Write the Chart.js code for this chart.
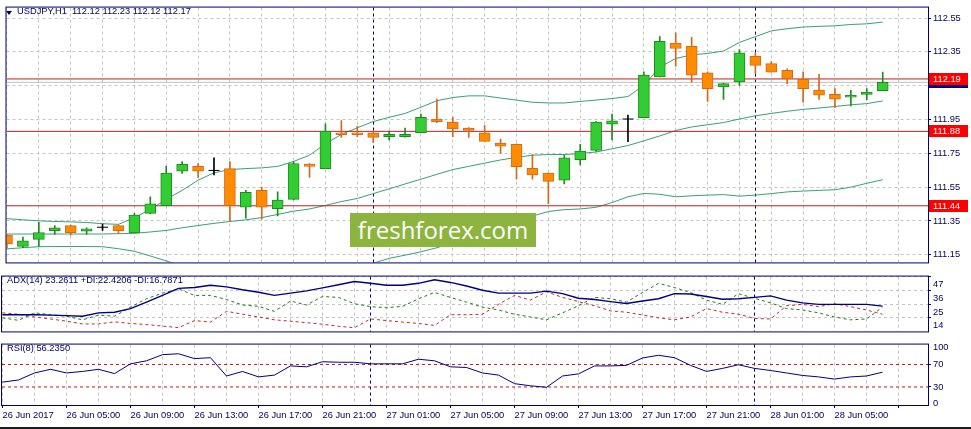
<!DOCTYPE html>
<html>
<head>
<meta charset="utf-8">
<title>USDJPY,H1</title>
<script src="https://cdn.jsdelivr.net/npm/chart.js@4.4.1/dist/chart.umd.min.js"></script>
<style>
body { margin: 0; background: #fff; }
#wrap { position: relative; width: 971px; height: 429px; overflow: hidden; font-family: 'Liberation Sans', Arial, sans-serif; }
canvas { position: absolute; left: 0; }
.hdr { position: absolute; font-size: 9.3px; line-height: 11px; color: #00005a; white-space: pre; }
#tri { position: absolute; left: 6px; top: 11px; width: 0; height: 0; border-left: 3px solid transparent; border-right: 3px solid transparent; border-top: 4px solid #00005a; }
#logo { position: absolute; left: 350px; top: 213px; width: 186px; height: 34px; line-height: 34px; background: #8cb43e; color: #fff; font-family: 'Open Sans', sans-serif; font-size: 24px; text-align: center; }
#bottomBar { position: absolute; left: 0; top: 427px; width: 971px; height: 2px; background: #1c1c1c; }
</style>
</head>
<body>
<div id="wrap">
  <canvas id="cMain" width="971" height="270" style="top:0"></canvas>
  <canvas id="cAdx" width="971" height="70" style="top:269px"></canvas>
  <canvas id="cRsi" width="971" height="92" style="top:337px"></canvas>
  <div id="tri"></div>
  <div class="hdr" id="hMain" style="left:17px;top:6px"></div>
  <div class="hdr" id="hAdx" style="left:7px;top:275px"></div>
  <div class="hdr" id="hRsi" style="left:7px;top:343px"></div>
  <div id="logo">freshforex.com</div>
  <div id="bottomBar"></div>
</div>
<script>
// H1 bars, one label every 4 bars
var timeLabels = ['26 Jun 2017', '26 Jun 05:00', '26 Jun 09:00', '26 Jun 13:00', '26 Jun 17:00', '26 Jun 21:00',
  '27 Jun 01:00', '27 Jun 05:00', '27 Jun 09:00', '27 Jun 13:00', '27 Jun 17:00', '27 Jun 21:00',
  '28 Jun 01:00', '28 Jun 05:00'];
var labelEvery = 4;
var separatorBars = [23, 47]; // day breaks

var opens = [111.266, 111.200, 111.241, 111.293, 111.323, 111.290, 111.313, 111.323, 111.279, 111.395,
  111.440, 111.645, 111.673, 111.649, 111.660, 111.432, 111.531, 111.423, 111.478, 111.686,
  111.660, 111.872, 111.872, 111.872, 111.849, 111.849, 111.872, 111.953, 111.935, 111.900,
  111.872, 111.811, 111.804, 111.662, 111.633, 111.592, 111.713, 111.768, 111.923, 111.953,
  111.961, 112.202, 112.402, 112.383, 112.226, 112.143, 112.173, 112.323, 112.281, 112.241,
  112.188, 112.124, 112.099, 112.082, 112.099, 112.120];
var highs = [111.270, 111.255, 111.342, 111.323, 111.326, 111.310, 111.332, 111.326, 111.395, 111.493,
  111.673, 111.702, 111.690, 111.724, 111.702, 111.531, 111.550, 111.522, 111.702, 111.690,
  111.925, 111.944, 111.910, 111.875, 111.881, 111.900, 111.982, 112.071, 111.963, 111.902,
  111.914, 111.834, 111.806, 111.743, 111.635, 111.739, 111.804, 111.938, 111.982, 111.976,
  112.232, 112.440, 112.463, 112.436, 112.232, 112.165, 112.364, 112.345, 112.293, 112.250,
  112.232, 112.217, 112.133, 112.122, 112.133, 112.230];
var lows = [111.192, 111.192, 111.200, 111.270, 111.266, 111.270, 111.294, 111.277, 111.279, 111.392,
  111.440, 111.631, 111.607, 111.622, 111.347, 111.366, 111.361, 111.380, 111.476, 111.607,
  111.660, 111.844, 111.849, 111.815, 111.830, 111.845, 111.872, 111.932, 111.849, 111.844,
  111.821, 111.749, 111.597, 111.597, 111.452, 111.569, 111.682, 111.762, 111.830, 111.819,
  111.961, 112.202, 112.266, 112.171, 112.057, 112.069, 112.152, 112.222, 112.230, 112.162,
  112.052, 112.069, 112.020, 112.031, 112.067, 112.120];
var closes = [111.215, 111.232, 111.281, 111.310, 111.281, 111.304, 111.313, 111.293, 111.385, 111.452,
  111.633, 111.685, 111.645, 111.649, 111.440, 111.520, 111.432, 111.474, 111.690, 111.673,
  111.881, 111.861, 111.861, 111.844, 111.862, 111.862, 111.963, 111.938, 111.895, 111.885,
  111.821, 111.793, 111.671, 111.622, 111.584, 111.724, 111.764, 111.935, 111.942, 111.953,
  112.213, 112.412, 112.370, 112.213, 112.133, 112.162, 112.345, 112.270, 112.230, 112.190,
  112.133, 112.094, 112.071, 112.094, 112.113, 112.170];

// Bollinger bands
var bbUpper = [111.364, 111.357, 111.351, 111.347, 111.345, 111.341, 111.334, 111.330, 111.370, 111.418,
  111.478, 111.531, 111.591, 111.635, 111.654, 111.660, 111.664, 111.673, 111.702, 111.739,
  111.806, 111.862, 111.901, 111.938, 111.963, 111.986, 112.023, 112.061, 112.080, 112.090,
  112.090, 112.077, 112.065, 112.052, 112.048, 112.048, 112.057, 112.065, 112.074, 112.086,
  112.152, 112.260, 112.311, 112.332, 112.341, 112.355, 112.406, 112.440, 112.474, 112.487,
  112.497, 112.501, 112.504, 112.512, 112.516, 112.526];
var bbMiddle = [111.273, 111.273, 111.273, 111.273, 111.273, 111.273, 111.273, 111.275, 111.277, 111.285,
  111.294, 111.310, 111.323, 111.336, 111.347, 111.357, 111.370, 111.389, 111.408, 111.421,
  111.442, 111.465, 111.483, 111.512, 111.540, 111.569, 111.597, 111.626, 111.654, 111.673,
  111.692, 111.711, 111.726, 111.739, 111.743, 111.743, 111.749, 111.758, 111.777, 111.796,
  111.824, 111.853, 111.885, 111.906, 111.919, 111.932, 111.953, 111.972, 111.986, 111.999,
  112.010, 112.018, 112.027, 112.037, 112.044, 112.060];
var bbLower = [111.185, 111.192, 111.198, 111.199, 111.199, 111.199, 111.198, 111.186, 111.171, 111.143,
  111.114, 111.084, 111.056, 111.039, 111.022, 111.012, 111.010, 111.015, 111.024, 111.036,
  111.050, 111.066, 111.083, 111.100, 111.129, 111.148, 111.168, 111.192, 111.220, 111.254,
  111.288, 111.323, 111.351, 111.379, 111.406, 111.417, 111.421, 111.431, 111.459, 111.493,
  111.513, 111.508, 111.493, 111.499, 111.503, 111.506, 111.497, 111.503, 111.512, 111.522,
  111.527, 111.531, 111.535, 111.550, 111.573, 111.594];

var levels = [112.19, 111.88, 111.44];
var bidPrice = 112.17;
var priceTicks = [111.15, 111.35, 111.55, 111.75, 111.95, 112.15, 112.35, 112.55];
var priceMin = 111.105, priceMax = 112.612;

// ADX(14)
var adx = [16.4, 16.4, 16.4, 16.1, 15.7, 15.2, 17.9, 18.4, 21.3, 26.5,
  31.9, 37.5, 38.2, 40.0, 38.7, 36.4, 34.4, 31.9, 33.7, 35.5,
  37.9, 40.4, 43.1, 41.6, 40.0, 40.0, 41.6, 44.5, 42.3, 39.4,
  36.0, 33.7, 33.7, 33.7, 35.3, 33.3, 29.6, 28.6, 26.9, 25.4,
  27.4, 29.2, 33.3, 33.0, 31.0, 28.8, 29.2, 30.3, 31.5, 28.1,
  25.9, 24.7, 24.7, 24.7, 24.7, 23.26];
var plusDI = [13.9, 11.9, 17.9, 16.4, 15.2, 12.3, 16.1, 15.2, 22.5, 29.2,
  33.7, 37.1, 31.9, 31.9, 28.6, 24.2, 23.1, 19.1, 27.4, 24.2,
  31.0, 30.3, 25.2, 22.9, 22.0, 23.1, 29.2, 34.2, 30.3, 26.5,
  22.5, 20.2, 16.8, 14.6, 12.3, 17.9, 23.6, 30.3, 29.2, 26.5,
  34.2, 41.6, 38.2, 34.2, 28.1, 24.7, 33.3, 29.6, 25.9, 21.3,
  20.2, 17.9, 14.6, 12.3, 13.0, 22.42];
var minusDI = [17.9, 16.8, 14.6, 13.0, 11.2, 9.0, 9.0, 10.7, 9.4, 8.5,
  7.3, 6.0, 11.7, 10.5, 19.1, 16.8, 14.6, 12.3, 11.2, 10.0,
  8.8, 7.1, 6.0, 13.0, 11.7, 10.5, 9.4, 7.8, 16.4, 16.4,
  16.8, 24.7, 31.9, 28.1, 34.8, 30.3, 26.9, 23.6, 19.5, 18.4,
  16.2, 13.9, 12.3, 14.6, 21.3, 18.4, 16.8, 13.4, 13.0, 23.6,
  24.7, 22.9, 25.2, 22.9, 20.2, 16.79];
var adxTicks = [14, 25, 36, 47];
var adxMin = 3, adxMax = 47;

// RSI(8)
var rsi = [38.6, 42.4, 54.9, 61.4, 54.9, 57.6, 61.4, 53.8, 71.1, 76.5,
  87.4, 89.0, 80.4, 82.0, 49.5, 57.6, 47.9, 51.1, 67.4, 65.8,
  74.9, 73.9, 73.9, 71.1, 71.1, 71.1, 79.3, 76.5, 65.8, 64.6,
  54.9, 51.1, 35.9, 32.1, 29.4, 49.5, 53.3, 67.4, 67.4, 68.4,
  81.5, 86.3, 82.0, 68.4, 57.6, 63.0, 69.5, 63.0, 59.3, 54.9,
  50.5, 47.9, 44.0, 47.9, 49.5, 56.235];
var rsiLevels = [70, 30];
var rsiTicks = [0, 30, 70, 100];
var rsiMin = -2, rsiMax = 105.3;

var NAVY = '#000070';
var TEXT = '#00005a';
var GRID = '#c4c4c4';
var LEVEL = '#be1e1e';
var xMin = -0.03125, xMax = 57.84375;

Chart.defaults.font.family = "'Liberation Sans', Arial, sans-serif";
Chart.defaults.font.size = 9.3;
Chart.defaults.color = TEXT;

document.getElementById('hMain').textContent = 'USDJPY,H1  ' +
  [opens[55], highs[55], lows[55], closes[55]].map(function (v) { return v.toFixed(2); }).join(' ');
document.getElementById('hAdx').textContent = 'ADX(14) 23.2611 +DI:22.4206 -DI:16.7871';
document.getElementById('hRsi').textContent = 'RSI(8) 56.2350';

function pts(arr) {
  return arr.map(function (v, i) { return { x: i, y: v }; });
}
function flat(v) {
  return [{ x: xMin, y: v }, { x: xMax, y: v }];
}
function candleColor(raw, up, down, doji) {
  if (raw.c > raw.o) return up;
  if (raw.c < raw.o) return down;
  return doji;
}

var wicks = [], bodies = [], dojis = [];
for (var i = 0; i < opens.length; i++) {
  wicks.push({ x: i, y: [lows[i], highs[i]], o: opens[i], c: closes[i] });
  if (opens[i] === closes[i]) dojis.push({ x: i, y: opens[i] });
  else bodies.push({ x: i, y: [opens[i], closes[i]], o: opens[i], c: closes[i] });
}

// frame round the plot and dashed day separators
var framePlugin = {
  id: 'frame',
  beforeDatasetsDraw: function (chart) {
    var a = chart.chartArea, ctx = chart.ctx, xs = chart.scales.x;
    ctx.save();
    ctx.strokeStyle = NAVY;
    ctx.lineWidth = 1;
    ctx.setLineDash([3, 3]);
    separatorBars.forEach(function (b) {
      var px = Math.floor(xs.getPixelForValue(b)) + 0.5;
      ctx.beginPath();
      ctx.moveTo(px, a.top);
      ctx.lineTo(px, a.bottom);
      ctx.stroke();
    });
    ctx.restore();
  },
  afterDraw: function (chart) {
    var a = chart.chartArea, ctx = chart.ctx;
    ctx.save();
    ctx.strokeStyle = NAVY;
    ctx.lineWidth = 1;
    ctx.strokeRect(a.left - 0.5, a.top - 0.5, a.right - a.left + 1, a.bottom - a.top + 1);
    ctx.restore();
  }
};

// price tags on the right axis
var tagPlugin = {
  id: 'tags',
  afterDraw: function (chart) {
    var a = chart.chartArea, ctx = chart.ctx, ys = chart.scales.y;
    function tag(v, bg) {
      var y = Math.round(ys.getPixelForValue(v));
      ctx.fillStyle = bg;
      ctx.fillRect(a.right + 1, y - 6, 39, 12);
      ctx.fillStyle = '#fff';
      ctx.textBaseline = 'middle';
      ctx.textAlign = 'left';
      ctx.fillText(v.toFixed(2), a.right + 5, y + 0.5);
    }
    ctx.save();
    ctx.font = "9.3px 'Liberation Sans', Arial, sans-serif";
    tag(bidPrice, '#000080');
    levels.forEach(function (l) { tag(l, '#ff0000'); });
    ctx.restore();
  }
};

function xAxis(showLabels) {
  return {
    type: 'linear',
    min: xMin,
    max: xMax,
    bounds: 'data',
    offset: false,
    grid: {
      offset: false,
      color: GRID,
      drawTicks: showLabels,
      tickLength: 3,
      tickColor: function (c) {
        return c.tick && c.tick.value % labelEvery === 0 ? NAVY : 'rgba(0,0,0,0)';
      }
    },
    border: { display: false, dash: [3, 3] },
    ticks: {
      display: showLabels,
      autoSkip: false,
      maxRotation: 0,
      align: 'start',
      padding: 2,
      color: TEXT,
      callback: function (v) {
        return v % labelEvery === 0 && timeLabels[v / labelEvery] ? timeLabels[v / labelEvery] : '';
      }
    },
    afterBuildTicks: function (s) {
      var t = [];
      for (var v = 0; v <= xMax; v += 2) t.push({ value: v });
      s.ticks = t;
    },
    afterFit: function (s) { s.height = showLabels ? 24 : 0; }
  };
}

function yAxis(min, max, tickValues, fmt, opts) {
  opts = opts || {};
  return {
    type: 'linear',
    position: 'right',
    min: min,
    max: max,
    bounds: 'data',
    grid: {
      color: opts.gridColor || GRID,
      tickLength: 3,
      tickColor: opts.tickColor || NAVY
    },
    border: { display: false, dash: [3, 3] },
    ticks: {
      padding: 2,
      color: TEXT,
      labelOffset: opts.labelOffset || 0,
      callback: fmt
    },
    afterBuildTicks: function (s) {
      s.ticks = tickValues.map(function (v) { return { value: v }; });
    },
    afterFit: function (s) { s.width = 43; }
  };
}

function lineSet(data, color, dash, width, order) {
  return {
    type: 'line',
    data: data,
    borderColor: color,
    borderWidth: width || 1,
    borderDash: dash || [],
    pointRadius: 0,
    tension: 0,
    fill: false,
    clip: 0,
    order: order
  };
}

var common = {
  responsive: false,
  animation: false,
  events: [],
  plugins: { legend: { display: false }, tooltip: { enabled: false } }
};

new Chart(document.getElementById('cMain'), {
  type: 'bar',
  data: {
    datasets: [
      {
        type: 'line', data: dojis, showLine: false, pointStyle: 'line', pointRadius: 5.5,
        pointBorderColor: '#000', pointBorderWidth: 1, clip: 0, order: 0
      },
      {
        type: 'bar', data: bodies, grouped: false, barThickness: 11, borderWidth: 1, borderSkipped: false,
        backgroundColor: function (c) { return candleColor(c.raw, '#32cd32', '#ff8c00', '#000'); },
        borderColor: function (c) { return candleColor(c.raw, '#1f8a1f', '#d2691e', '#000'); },
        clip: 0, order: 1
      },
      {
        type: 'bar', data: wicks, grouped: false, barThickness: 1, borderWidth: 0,
        backgroundColor: function (c) { return candleColor(c.raw, '#1f8a1f', '#d2691e', '#000'); },
        clip: 0, order: 2
      },
      lineSet(flat(levels[0]), LEVEL, null, 1, 3),
      lineSet(flat(levels[1]), LEVEL, null, 1, 3),
      lineSet(flat(levels[2]), LEVEL, null, 1, 3),
      lineSet(flat(bidPrice), '#c0c0c0', null, 1, 4),
      lineSet(pts(bbUpper), '#3a9f76', null, 1, 5),
      lineSet(pts(bbMiddle), '#3a9f76', null, 1, 5),
      lineSet(pts(bbLower), '#3a9f76', null, 1, 5)
    ]
  },
  options: Object.assign({}, common, {
    layout: { padding: { left: 2, top: 3, right: 0, bottom: 2 } },
    scales: {
      x: xAxis(false),
      y: yAxis(priceMin, priceMax, priceTicks, function (v) { return v.toFixed(2); })
    }
  }),
  plugins: [framePlugin, tagPlugin]
});

new Chart(document.getElementById('cAdx'), {
  type: 'line',
  data: {
    datasets: [
      lineSet(pts(adx), '#000080', null, 1.4, 0),
      lineSet(pts(plusDI), '#1c7a1c', [3, 3], 1, 1),
      lineSet(pts(minusDI), '#c0282d', [3, 3], 1, 2)
    ]
  },
  options: Object.assign({}, common, {
    layout: { padding: { left: 2, top: 2, right: 0, bottom: 2 } },
    scales: {
      x: xAxis(false),
      y: yAxis(adxMin, adxMax, adxTicks, function (v) { return String(v); }, { labelOffset: 8 })
    }
  }),
  plugins: [framePlugin]
});

new Chart(document.getElementById('cRsi'), {
  type: 'line',
  data: {
    datasets: [
      lineSet(pts(rsi), '#000080', null, 1, 0),
      lineSet(flat(rsiLevels[0]), LEVEL, [3, 3], 1, 1),
      lineSet(flat(rsiLevels[1]), LEVEL, [3, 3], 1, 1)
    ]
  },
  options: Object.assign({}, common, {
    layout: { padding: { left: 2, top: 2, right: 0, bottom: 0 } },
    scales: {
      x: xAxis(true),
      y: yAxis(rsiMin, rsiMax, rsiTicks, function (v) { return String(v); }, {
        gridColor: 'rgba(0,0,0,0)',
        tickColor: function (c) {
          return c.tick && rsiLevels.indexOf(c.tick.value) >= 0 ? NAVY : 'rgba(0,0,0,0)';
        }
      })
    }
  }),
  plugins: [framePlugin]
});
</script>
</body>
</html>
